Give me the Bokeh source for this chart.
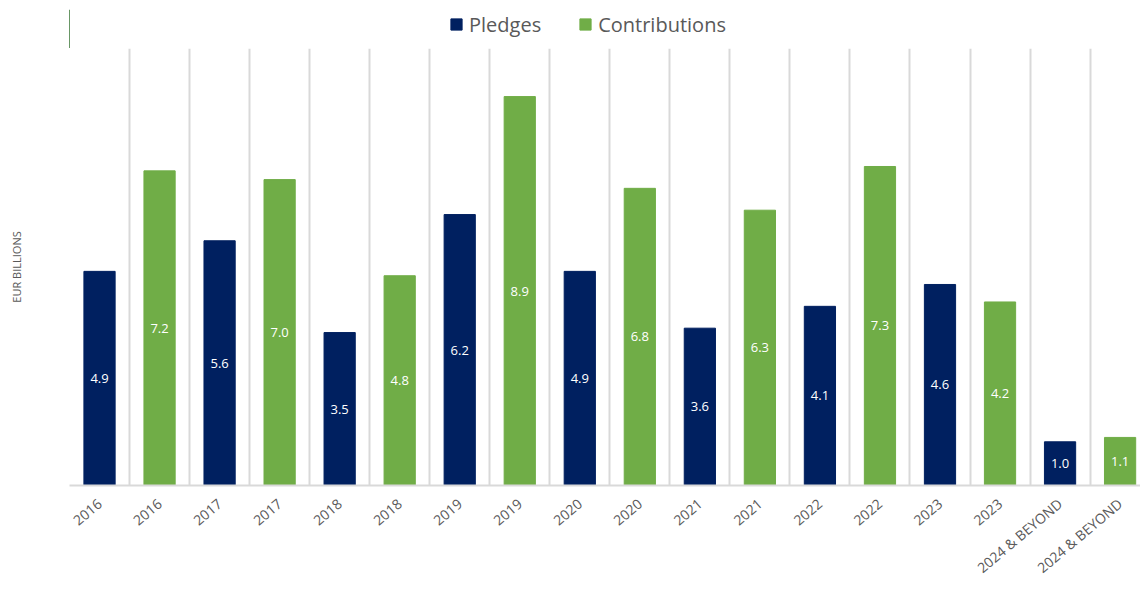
from bokeh.plotting import figure
from bokeh.layouts import column
from bokeh.models import ColumnDataSource, FixedTicker, Range1d, Legend, LegendItem
from bokeh.core.properties import value
from bokeh.embed import file_html
from bokeh.resources import INLINE

categories = ["2016", "2016", "2017", "2017", "2018", "2018", "2019", "2019",
              "2020", "2020", "2021", "2021", "2022", "2022", "2023", "2023",
              "2024 & BEYOND", "2024 & BEYOND"]
series_names = ["Pledges", "Contributions"]
pledges = [4.9, 5.6, 3.5, 6.2, 4.9, 3.6, 4.1, 4.6, 1.0]
contributions = [7.2, 7.0, 4.8, 8.9, 6.8, 6.3, 7.3, 4.2, 1.1]

NAVY = "#002060"
GREEN = "#70AD47"
GRAY = "#595959"
FONT = "Open Sans"

px = [2 * i for i in range(len(pledges))]
cx = [2 * i + 1 for i in range(len(contributions))]
ps = ColumnDataSource(dict(x=px, top=pledges, mid=[v / 2 for v in pledges],
                           lab=[f"{v:.1f}" for v in pledges]))
cs = ColumnDataSource(dict(x=cx, top=contributions, mid=[v / 2 for v in contributions],
                           lab=[f"{v:.1f}" for v in contributions]))

# ---- legend strip on top ----
lg = figure(width=1140, height=48, output_backend="svg", toolbar_location=None,
            x_range=Range1d(0.2, 1.2), y_range=Range1d(0.2, 1.2),
            x_axis_location=None, y_axis_location=None,
            min_border_left=0, min_border_right=0, min_border_top=0, min_border_bottom=0)
lg.outline_line_color = None
lg.xgrid.grid_line_color = None
lg.ygrid.grid_line_color = None
lg.grid.visible = False
# keyed off-screen so only their legend swatches show
lp = lg.vbar(x=[-10], top=[1], width=0.5, color=NAVY)
lc = lg.vbar(x=[-10], top=[1], width=0.5, color=GREEN)
legend = Legend(items=[LegendItem(label=series_names[0], renderers=[lp]),
                       LegendItem(label=series_names[1], renderers=[lc])],
                orientation="horizontal", location=(380, 10),
                label_text_font=FONT, label_text_font_size="20px", label_text_color=GRAY,
                glyph_width=14, glyph_height=14, label_standoff=6, spacing=37,
                label_height=28, padding=4, margin=0, border_line_color=None,
                background_fill_alpha=0)
lg.add_layout(legend, "center")

# ---- main chart ----
p = figure(width=1140, height=543, output_backend="svg", toolbar_location=None,
           x_range=Range1d(-0.5, 17.34), y_range=Range1d(0, 10),
           min_border_left=69, min_border_right=0, min_border_top=0, min_border_bottom=106)
p.outline_line_color = None
p.background_fill_color = "white"

p.vbar(x="x", top="top", width=0.52, source=ps, color=NAVY)
p.vbar(x="x", top="top", width=0.52, source=cs, color=GREEN)
p.text(x="x", y="mid", text="lab", source=ps, text_color="white",
       text_font=value(FONT), text_font_size="13px", text_align="center", text_baseline="middle")
p.text(x="x", y="mid", text="lab", source=cs, text_color="white",
       text_font=value(FONT), text_font_size="13px", text_align="center", text_baseline="middle")

# x axis
p.xaxis.ticker = FixedTicker(ticks=list(range(len(categories))))
p.xaxis.major_label_overrides = {i: c for i, c in enumerate(categories)}
p.xaxis.major_label_orientation = 0.7
p.xaxis.major_label_text_font = FONT
p.xaxis.major_label_text_font_size = "14px"
p.xaxis.major_label_text_color = GRAY
p.xaxis.major_tick_line_color = None
p.xaxis.minor_tick_line_color = None
p.xaxis.axis_line_color = "#d9d9d9"
p.xaxis.axis_line_width = 2
p.xaxis.major_label_standoff = 10

# y axis
p.yaxis.ticker = FixedTicker(ticks=[])
p.yaxis.axis_label = "EUR BILLIONS"
p.yaxis.axis_label_text_font = FONT
p.yaxis.axis_label_text_font_size = "11px"
p.yaxis.axis_label_text_font_style = "normal"
p.yaxis.axis_label_text_color = GRAY
p.yaxis.major_tick_line_color = None
p.yaxis.minor_tick_line_color = None
p.yaxis.axis_line_color = None
p.yaxis.axis_label_standoff = 46

# grids
p.ygrid.grid_line_color = None
p.xgrid.ticker = FixedTicker(ticks=[i - 0.5 for i in range(len(categories) + 1)])
p.xgrid.grid_line_color = "#d9d9d9"
p.xgrid.grid_line_width = 2

layout = column(lg, p, spacing=0)
open("out.html", "w").write(file_html(layout, INLINE))
